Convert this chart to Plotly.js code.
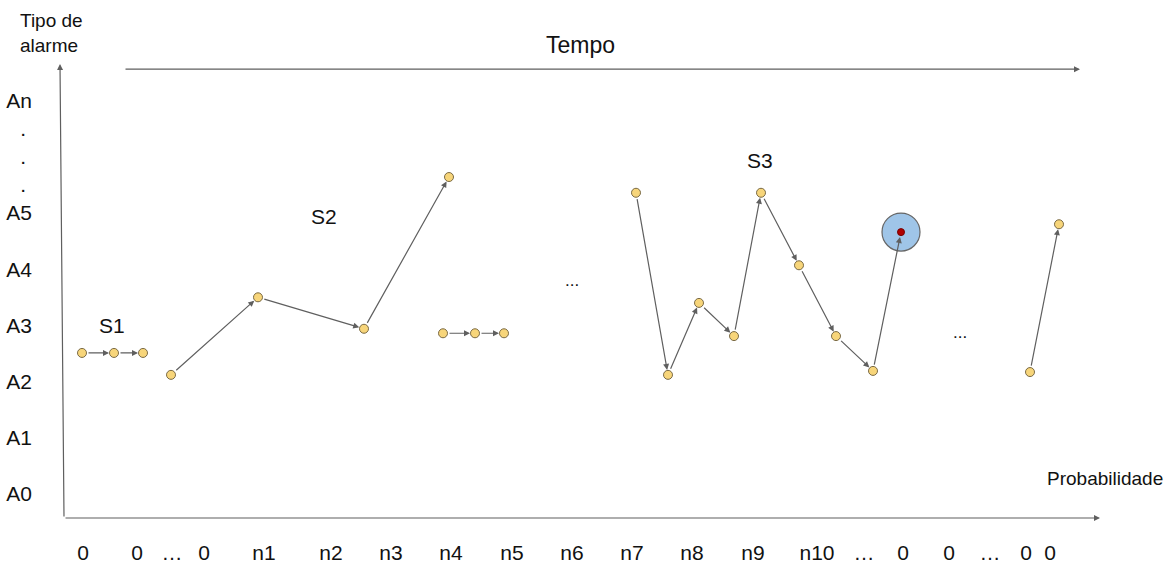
<!DOCTYPE html>
<html><head><meta charset="utf-8">
<script src="https://cdn.plot.ly/plotly-3.0.1.min.js"></script>
<style>body{margin:0;background:#fff}#chart{width:1174px;height:569px}</style>
</head><body><div id="chart"></div>
<script>
// Tick labels (x: time / probability, y: alarm type levels)
const xTickPos  = [83,137,172,204,264,331,391,451,512,572,632,692,753,817,864,903,949,990,1026,1050];
const xTickText = ['0','0','…','0','n1','n2','n3','n4','n5','n6','n7','n8','n9','n10','…','0','0','…','0','0'];
const yTickPos  = [0,1,2,3,4,5,5.5,6,6.5,7];
const yTickText = ['A0','A1','A2','A3','A4','A5','.\u00a0','.\u00a0','.\u00a0','An'];

// Sequences (x = position in time, y = alarm level)
const s1x = [82,114,143];            const s1y = [2.51,2.51,2.51];
const s2x = [171,258,364,449];       const s2y = [2.12,3.50,2.94,5.64];
const smx = [443,475,504];           const smy = [2.86,2.86,2.86];
const s3x = [636,668,699,734,761,799,836,873,901];
const s3y = [5.36,2.12,3.40,2.81,5.36,4.07,2.81,2.19,4.66];
const s5x = [1030,1059];             const s5y = [2.17,4.80];

const seqs = [[s1x,s1y],[s2x,s2y],[smx,smy],[s3x,s3y],[s5x,s5y]];

const yellow = '#f7d57a', outline = '#7a6a45', arrowC = '#5f5f5f';
const yLo = -0.427, yHi = 8.79;

const traces = [];
const lastX = s3x[s3x.length-1], lastY = s3y[s3y.length-1];
// highlight circle around final point of S3
traces.push({x:[lastX], y:[lastY], mode:'markers', type:'scatter',
  marker:{size:38, color:'#9fc5e8', line:{color:'#666', width:1.2}}, hoverinfo:'skip'});
seqs.forEach(([xs,ys],k)=>{
  const n = (k===3) ? xs.length-1 : xs.length;
  traces.push({x:xs.slice(0,n), y:ys.slice(0,n), mode:'markers', type:'scatter',
    marker:{size:9, color:yellow, line:{color:outline, width:1}}, hoverinfo:'skip'});
});
traces.push({x:[lastX], y:[lastY], mode:'markers', type:'scatter',
  marker:{size:7, color:'#b00000', line:{color:'#700', width:1}}, hoverinfo:'skip'});

const annotations = [];
seqs.forEach(([xs,ys])=>{
  for(let i=0;i<xs.length-1;i++){
    annotations.push({x:xs[i+1], y:ys[i+1], ax:xs[i], ay:ys[i], xref:'x', yref:'y', axref:'x', ayref:'y',
      text:'', showarrow:true, arrowhead:2, arrowsize:1, arrowwidth:1.2, arrowcolor:arrowC,
      standoff:5, startstandoff:5});
  }
});
// axes arrows
annotations.push({x:60, y:7.65, ax:64, ay:yLo, xref:'x', yref:'y', axref:'x', ayref:'y', text:'', showarrow:true,
  arrowhead:2, arrowsize:1, arrowwidth:1.2, arrowcolor:arrowC});
annotations.push({x:1100, y:yLo, ax:64, ay:yLo, xref:'x', yref:'y', axref:'x', ayref:'y', text:'', showarrow:true,
  arrowhead:2, arrowsize:1, arrowwidth:1.2, arrowcolor:arrowC});
annotations.push({x:1080, y:7.56, ax:124, ay:7.56, xref:'x', yref:'y', axref:'x', ayref:'y', text:'', showarrow:true,
  arrowhead:2, arrowsize:1, arrowwidth:1.2, arrowcolor:arrowC});

const F = 'Liberation Sans, Arial, sans-serif';
const txt = (t,x,y,size,extra)=>Object.assign({text:t, x:x, y:y, xref:'x', yref:'y', showarrow:false,
  xanchor:'center', yanchor:'middle', font:{family:F, size:size, color:'#111'}}, extra||{});
annotations.push(txt('Tempo',580,7.99,23));
annotations.push(txt('S1',112,2.99,21));
annotations.push(txt('S2',324,4.93,21));
annotations.push(txt('S3',760,5.94,21));
annotations.push(txt('...',572,3.80,17));
annotations.push(txt('...',960,2.88,17));
annotations.push(txt('Probabilidade',1105,0.27,19));
annotations.push({text:'Tipo de<br>alarme', x:-0.0072, y:8.2, xref:'paper', yref:'y', showarrow:false,
  xanchor:'center', yanchor:'middle', font:{family:F, size:19, color:'#111'}, align:'left'});

const layout = {
  width:1174, height:569, margin:{l:60, r:0, t:0, b:51},
  paper_bgcolor:'#fff', plot_bgcolor:'#fff', showlegend:false,
  font:{family:F, color:'#111'},
  xaxis:{range:[60,1174], showgrid:false, zeroline:false, showline:false, ticks:'',
    tickmode:'array', tickvals:xTickPos, ticktext:xTickText, tickfont:{size:21, family:F, color:'#111'},
    ticklabelstandoff:20, fixedrange:true},
  yaxis:{range:[yLo,yHi], showgrid:false, zeroline:false, showline:false, ticks:'',
    tickmode:'array', tickvals:yTickPos, ticktext:yTickText, tickfont:{size:21, family:F, color:'#111'},
    ticklabelstandoff:27, fixedrange:true},
  annotations:annotations
};
Plotly.newPlot('chart', traces, layout, {displayModeBar:false, staticPlot:true});
</script></body></html>
